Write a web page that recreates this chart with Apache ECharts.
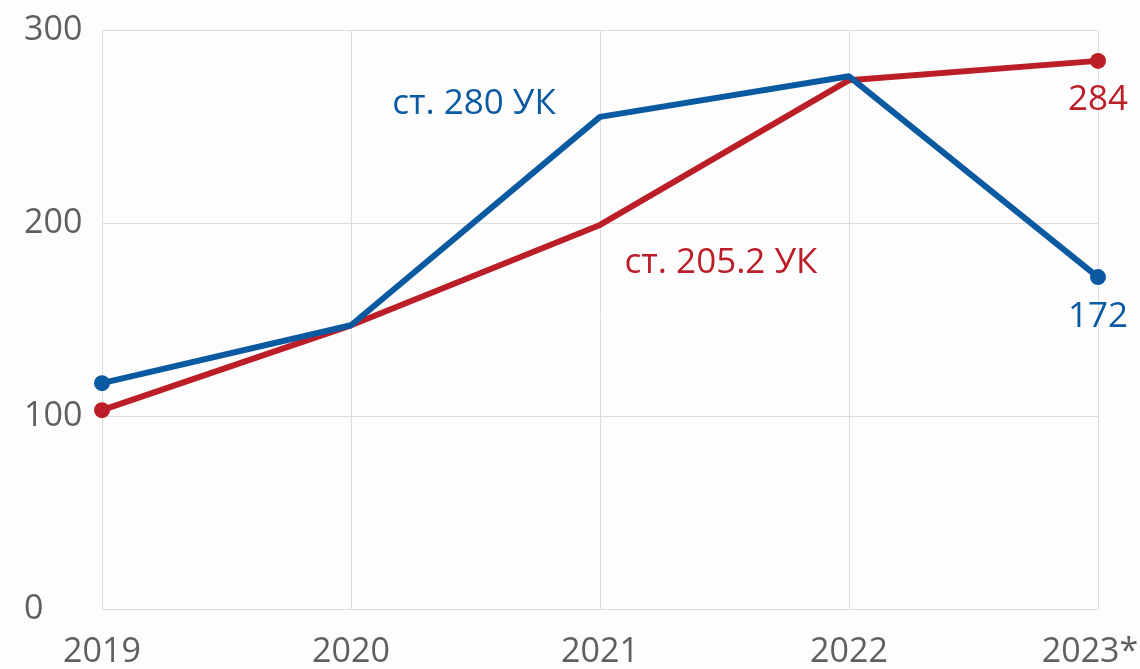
<!DOCTYPE html>
<html>
<head>
<meta charset="utf-8">
<script src="https://cdn.jsdelivr.net/npm/echarts@6/dist/echarts.min.js"></script>
<style>
  html, body { margin: 0; padding: 0; background: #fdfdfe; }
  #chart { width: 1140px; height: 669px; }
</style>
</head>
<body>
<div id="chart"></div>
<script>
// данные
const years = ['2019', '2020', '2021', '2022', '2023*']
const art280 = [117, 147, 255, 276, 172]
const art2052 = [103, 147, 199, 274, 284]
const yTicks = [0, 100, 200, 300]

const blue = '#0a5aa2'
const red = '#bb1e27'
const font = 'Open Sans'

const myChart = echarts.init(document.getElementById('chart'))

// точки только на концах, подпись серии у 2021, значение у последней точки
function buildData(values, color, nameText, nameOffset) {
  const last = values.length - 1
  return values.map((v, i) => {
    const item = { value: v }
    if (i !== 0 && i !== last) item.symbolSize = 0
    if (i === 2) {
      item.label = {
        show: true,
        formatter: nameText,
        position: 'inside',
        offset: nameOffset,
        color: color,
        fontSize: 35,
        fontFamily: font
      }
    }
    if (i === last) {
      item.label = {
        show: true,
        position: 'bottom',
        distance: 14,
        color: color,
        fontSize: 35,
        fontFamily: font
      }
    }
    return item
  })
}

const option = {
  backgroundColor: '#fdfdfe',
  animation: false,
  grid: { left: 102, right: 42, top: 30, bottom: 60, outerBoundsMode: 'none' },
  xAxis: {
    type: 'category',
    data: years,
    boundaryGap: false,
    axisLine: { lineStyle: { color: '#dcdcdc' } },
    axisTick: { show: false },
    axisLabel: {
      interval: 0,
      hideOverlap: false,
      color: '#5f5f5f', fontSize: 34, fontFamily: font, margin: 26,
      // последняя подпись чуть сдвинута влево, чтобы влезла
      formatter: (v, i) => i === years.length - 1 ? '{last|' + v + '}' : v,
      rich: {
        last: { color: '#5f5f5f', fontSize: 34, fontFamily: font, padding: [0, 16, 0, 0] }
      }
    },
    splitLine: { show: true, interval: 0, lineStyle: { color: '#dcdcdc', width: 1 } }
  },
  yAxis: {
    type: 'value',
    min: yTicks[0],
    max: yTicks[yTicks.length - 1],
    interval: 100,
    axisLine: { show: true, lineStyle: { color: '#dcdcdc' } },
    axisTick: { show: false },
    axisLabel: {
      color: '#5f5f5f', fontSize: 34, fontFamily: font,
      align: 'left', margin: 78
    },
    splitLine: { lineStyle: { color: '#dcdcdc', width: 1 } }
  },
  series: [
    {
      name: 'ст. 280 УК',
      type: 'line',
      data: buildData(art280, blue, 'ст. 280 УК', [-126, -13]),
      symbol: 'circle',
      symbolSize: 16,
      lineStyle: { color: blue, width: 6 },
      itemStyle: { color: blue },
      z: 3
    },
    {
      name: 'ст. 205.2 УК',
      type: 'line',
      data: buildData(art2052, red, 'ст. 205.2 УК', [121, 38]),
      symbol: 'circle',
      symbolSize: 16,
      lineStyle: { color: red, width: 6 },
      itemStyle: { color: red },
      z: 2
    }
  ]
}

myChart.setOption(option)
</script>
</body>
</html>
